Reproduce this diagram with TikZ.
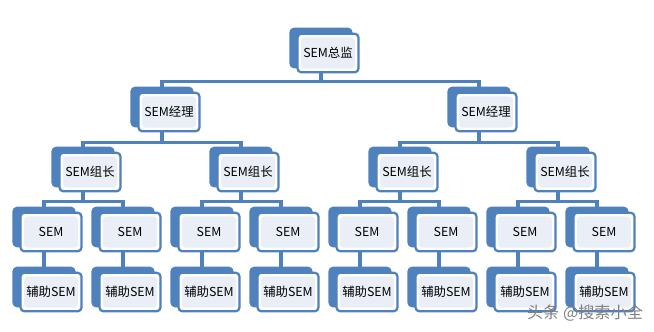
\documentclass[tikz,border=0pt]{standalone}
\usepackage{fontspec}
\setmainfont{Noto Sans CJK SC}
\usepackage{xcolor}
\usepackage{tikz}
\usetikzlibrary{positioning, shadows, backgrounds}
\definecolor{orgblue}{RGB}{79,129,189}
\definecolor{orgfill}{RGB}{234,239,247}

\begin{document}
\begin{tikzpicture}[
		post/.style={shape=rectangle, draw=orgblue, line width=1.6pt, fill=white, rounded corners=2.5pt,
			minimum width=1.52cm, minimum height=0.96cm, inner sep=1pt, font=\fontsize{8.8}{11}\selectfont,
			copy shadow={shadow xshift=-0.175cm, shadow yshift=0.125cm, draw=orgblue, fill=orgblue, line width=1.6pt},
			path picture={\fill[orgfill] ([shift={(2.5pt,2.5pt)}]path picture bounding box.south west) rectangle ([shift={(-2.5pt,-2.5pt)}]path picture bounding box.north east);}},
		link/.style={draw=orgblue, line width=2.2pt}
	]
			\useasboundingbox (0, 0) rectangle (16.35, 8.275);
			% Boxes:
			\node[post] (dir) at (8.2, 6.95){SEM总监};
			\node[post] (mgrA) at (4.225, 5.475){SEM经理};
			\node[post] (mgrB) at (12.15, 5.475){SEM经理};
			\node[post] (leadA) at (2.25, 3.975){SEM组长};
			\node[post] (leadB) at (6.2, 3.975){SEM组长};
			\node[post] (leadC) at (10.175, 3.975){SEM组长};
			\node[post] (leadD) at (14.125, 3.975){SEM组长};
			\node[post] (semA) at (1.275, 2.475){SEM};
			\node[post] (semB) at (3.25, 2.475){SEM};
			\node[post] (semC) at (5.225, 2.475){SEM};
			\node[post] (semD) at (7.2, 2.475){SEM};
			\node[post] (semE) at (9.175, 2.475){SEM};
			\node[post] (semF) at (11.15, 2.475){SEM};
			\node[post] (semG) at (13.125, 2.475){SEM};
			\node[post] (semH) at (15.1, 2.475){SEM};
			\node[post] (astA) at (1.275, 0.975){辅助SEM};
			\node[post] (astB) at (3.25, 0.975){辅助SEM};
			\node[post] (astC) at (5.225, 0.975){辅助SEM};
			\node[post] (astD) at (7.2, 0.975){辅助SEM};
			\node[post] (astE) at (9.175, 0.975){辅助SEM};
			\node[post] (astF) at (11.15, 0.975){辅助SEM};
			\node[post] (astG) at (13.125, 0.975){辅助SEM};
			\node[post] (astH) at (15.1, 0.975){辅助SEM};
			% Connectors (behind the boxes):
			\begin{scope}[on background layer]
			\draw[link] ([xshift=-1.75mm]dir.south) -- ([xshift=-1.75mm, yshift=-2mm]dir.south);
			\draw[link] ([xshift=-1.75mm]mgrA.north) |- ([yshift=-2mm]dir.south) -| ([xshift=-1.75mm]mgrB.north);
			\draw[link] ([xshift=-1.75mm]mgrA.south) -- ([xshift=-1.75mm, yshift=-2.5mm]mgrA.south);
			\draw[link] ([xshift=-1.75mm]leadA.north) |- ([yshift=-2.5mm]mgrA.south) -| ([xshift=-1.75mm]leadB.north);
			\draw[link] ([xshift=-1.75mm]mgrB.south) -- ([xshift=-1.75mm, yshift=-2.5mm]mgrB.south);
			\draw[link] ([xshift=-1.75mm]leadC.north) |- ([yshift=-2.5mm]mgrB.south) -| ([xshift=-1.75mm]leadD.north);
			\draw[link] ([xshift=-1.75mm]leadA.south) -- ([xshift=-1.75mm, yshift=-2.25mm]leadA.south);
			\draw[link] ([xshift=-1.75mm]semA.north) |- ([yshift=-2.25mm]leadA.south) -| ([xshift=-1.75mm]semB.north);
			\draw[link] ([xshift=-1.75mm]leadB.south) -- ([xshift=-1.75mm, yshift=-2.25mm]leadB.south);
			\draw[link] ([xshift=-1.75mm]semC.north) |- ([yshift=-2.25mm]leadB.south) -| ([xshift=-1.75mm]semD.north);
			\draw[link] ([xshift=-1.75mm]leadC.south) -- ([xshift=-1.75mm, yshift=-2.25mm]leadC.south);
			\draw[link] ([xshift=-1.75mm]semE.north) |- ([yshift=-2.25mm]leadC.south) -| ([xshift=-1.75mm]semF.north);
			\draw[link] ([xshift=-1.75mm]leadD.south) -- ([xshift=-1.75mm, yshift=-2.25mm]leadD.south);
			\draw[link] ([xshift=-1.75mm]semG.north) |- ([yshift=-2.25mm]leadD.south) -| ([xshift=-1.75mm]semH.north);
			\draw[link] ([xshift=-1.75mm]semA.south) -- ([xshift=-1.75mm]astA.north);
			\draw[link] ([xshift=-1.75mm]semB.south) -- ([xshift=-1.75mm]astB.north);
			\draw[link] ([xshift=-1.75mm]semC.south) -- ([xshift=-1.75mm]astC.north);
			\draw[link] ([xshift=-1.75mm]semD.south) -- ([xshift=-1.75mm]astD.north);
			\draw[link] ([xshift=-1.75mm]semE.south) -- ([xshift=-1.75mm]astE.north);
			\draw[link] ([xshift=-1.75mm]semF.south) -- ([xshift=-1.75mm]astF.north);
			\draw[link] ([xshift=-1.75mm]semG.south) -- ([xshift=-1.75mm]astG.north);
			\draw[link] ([xshift=-1.75mm]semH.south) -- ([xshift=-1.75mm]astH.north);
			\end{scope}
			% Watermark:
			\node[font=\fontsize{11.5}{13}\selectfont, text=black!50] (mark) at (14.625, 0.45){头条 @搜索小全};
\end{tikzpicture}
\end{document}
